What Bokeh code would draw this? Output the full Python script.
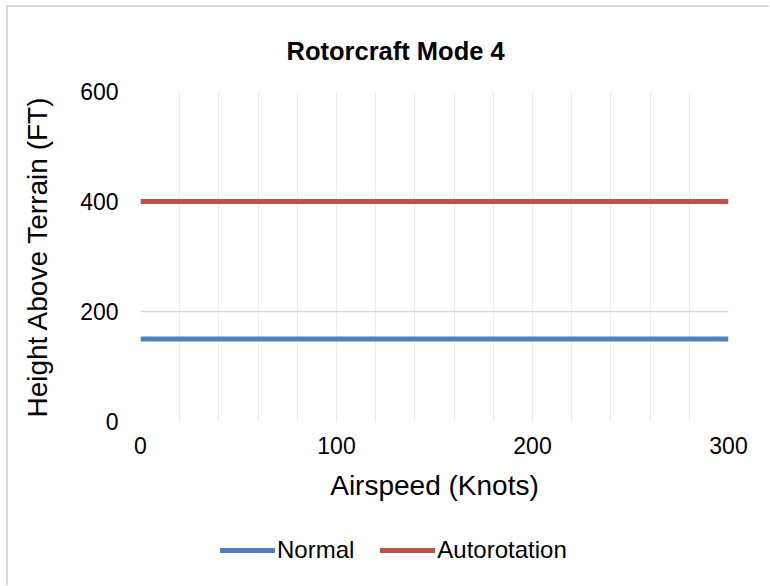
from bokeh.plotting import figure
from bokeh.layouts import column
from bokeh.models import FixedTicker, Legend, LegendItem, Range1d
from bokeh.embed import file_html
from bokeh.resources import INLINE

# Airspeed range and the two height floors (ft above terrain)
airspeed = [0, 300]
normal = [150, 150]
autorotation = [400, 400]

x_ticks = [0, 100, 200, 300]
y_ticks = [0, 200, 400, 600]
x_grid = list(range(0, 301, 20))

FONT = "Liberation Sans"
BLUE = "#4f81bd"
RED = "#c0504d"
EDGE = "2px solid #d9d9d9"

# ---- main chart ----
p = figure(
    frame_width=586, frame_height=328,
    x_range=Range1d(0, 300), y_range=Range1d(0, 600),
    output_backend="svg", toolbar_location=None,
    min_border_left=132, min_border_right=43,
    min_border_top=84, min_border_bottom=100,
    title="Rotorcraft Mode 4",
)
p.styles = {"border-left": EDGE, "border-top": EDGE,
            "margin-left": "6px", "margin-top": "5px"}
p.outline_line_color = None
p.background_fill_color = "white"
p.border_fill_color = "white"

p.title.text_font = FONT
p.title.text_font_size = "25.5px"
p.title.text_font_style = "bold"
p.title.text_color = "#000000"
p.title.align = "left"
p.title.offset = 146
p.title.standoff = 54

p.xgrid.ticker = FixedTicker(ticks=x_grid)
p.xgrid.grid_line_color = "#ececec"
p.xgrid.grid_line_width = 1
p.ygrid.ticker = FixedTicker(ticks=y_ticks)
p.ygrid.grid_line_color = "#d9d9d9"
p.ygrid.grid_line_width = 1.5

for ax in (p.xaxis[0], p.yaxis[0]):
    ax.axis_line_color = None
    ax.major_tick_line_color = None
    ax.minor_tick_line_color = None
    ax.major_tick_out = 0
    ax.major_tick_in = 0
    ax.minor_tick_out = 0
    ax.major_label_text_font = FONT
    ax.major_label_text_font_size = "23px"
    ax.major_label_text_color = "#000000"
    ax.axis_label_text_font = FONT
    ax.axis_label_text_font_size = "28px"
    ax.axis_label_text_font_style = "normal"
    ax.axis_label_text_color = "#000000"

p.xaxis.ticker = FixedTicker(ticks=x_ticks)
p.yaxis.ticker = FixedTicker(ticks=y_ticks)
p.xaxis.axis_label = "Airspeed (Knots)"
p.yaxis.axis_label = "Height Above Terrain (FT)"
p.xaxis.major_label_standoff = 15
p.xaxis.axis_label_standoff = 13
p.yaxis.major_label_standoff = 22
p.yaxis.axis_label_standoff = 24

p.line(airspeed, normal, line_width=5, line_color=BLUE)
p.line(airspeed, autorotation, line_width=5, line_color=RED)

# ---- legend strip under the chart ----
leg = figure(
    width=761, height=66,
    x_range=Range1d(0, 300), y_range=Range1d(1000, 1001),
    output_backend="svg", toolbar_location=None,
    x_axis_location=None, y_axis_location=None,
    min_border=0,
)
leg.styles = {"border-left": EDGE, "margin-left": "6px"}
leg.outline_line_color = None
leg.grid.visible = False
leg.background_fill_color = "white"
leg.border_fill_color = "white"

k_normal = leg.line(airspeed, normal, line_width=5, line_color=BLUE, line_cap="round")
k_auto = leg.line(airspeed, autorotation, line_width=5, line_color=RED, line_cap="round")

legend = Legend(
    items=[LegendItem(label="Normal", renderers=[k_normal]),
           LegendItem(label="Autorotation", renderers=[k_auto])],
    orientation="horizontal",
    location=(80, 21),
    glyph_width=55, glyph_height=24,
    label_standoff=2, spacing=26,
    padding=0, margin=0,
    border_line_color=None, background_fill_alpha=0,
    label_text_font=FONT, label_text_font_size="24px",
    label_text_color="#000000",
)
leg.add_layout(legend, "center")

layout = column(p, leg, spacing=0)
open("out.html", "w").write(file_html(layout, INLINE))
